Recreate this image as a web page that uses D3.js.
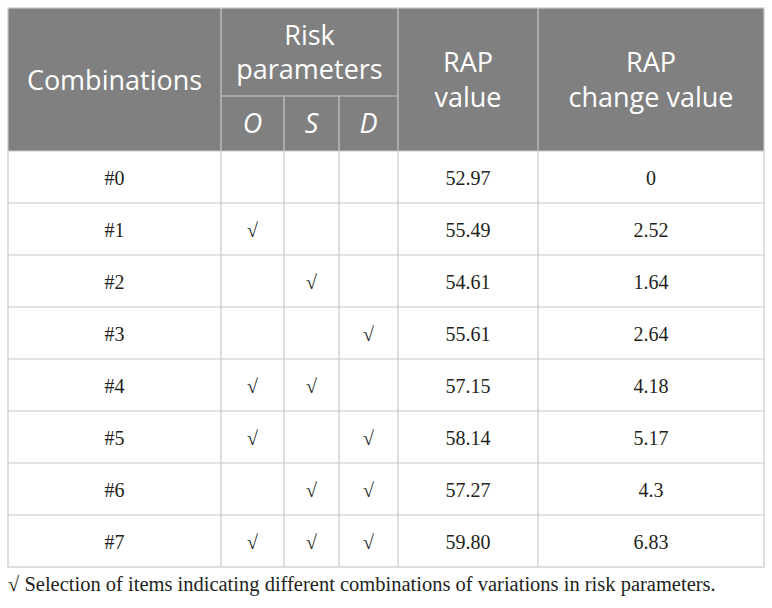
<!DOCTYPE html>
<html>
<head>
<meta charset="utf-8">
<script src="https://cdn.jsdelivr.net/npm/d3@7"></script>
<style>
  body { margin: 0; background: #fff; }
</style>
</head>
<body>
<div id="table"></div>
<script>
// Table data
var combos = ["#0", "#1", "#2", "#3", "#4", "#5", "#6", "#7"];
var checkO = [0, 1, 0, 0, 1, 1, 0, 1];
var checkS = [0, 0, 1, 0, 1, 0, 1, 1];
var checkD = [0, 0, 0, 1, 0, 1, 1, 1];
var rapValue = ["52.97", "55.49", "54.61", "55.61", "57.15", "58.14", "57.27", "59.80"];
var rapChange = ["0", "2.52", "1.64", "2.64", "4.18", "5.17", "4.3", "6.83"];
var footnote = "\u221A Selection of items indicating different combinations of variations in risk parameters.";

// Layout
var svgWidth = 772;
var svgHeight = 608;
var tableLeft = 8, tableRight = 764;
var headTop = 8, headMid = 96, headBottom = 151, tableBottom = 567;
var colEdges = [tableLeft, 221, 284, 339, 398, 538, tableRight];
var headFill = "#808080";
var lineColor = "#c8c8c8";
var sansFont = "'Open Sans', sans-serif";
var serifFont = "'Liberation Serif', 'Times New Roman', serif";

var svg = d3.select("#table")
    .append("svg")
    .attr("width", svgWidth)
    .attr("height", svgHeight);

// Row scale for the body
var yScale = d3.scaleBand()
    .domain(combos)
    .range([headBottom, tableBottom]);

var colMid = function(i) { return (colEdges[i] + colEdges[i + 1]) / 2; };

// Header background
svg.append("rect")
    .attr("x", tableLeft)
    .attr("y", headTop)
    .attr("width", tableRight - tableLeft)
    .attr("height", headBottom - headTop)
    .attr("fill", headFill);

// Header text
var head = svg.append("g")
    .attr("fill", "#fff")
    .attr("font-family", sansFont)
    .attr("font-size", "27px")
    .attr("text-anchor", "middle");

head.append("text").attr("x", colMid(0)).attr("y", 90).text("Combinations");
var riskMid = (colEdges[1] + colEdges[4]) / 2;
head.append("text").attr("x", riskMid).attr("y", 45).text("Risk");
head.append("text").attr("x", riskMid).attr("y", 79).text("parameters");
["O", "S", "D"].forEach(function(p, i) {
    head.append("text")
        .attr("x", colMid(i + 1))
        .attr("y", 133)
        .attr("font-style", "italic")
        .text(p);
});
head.append("text").attr("x", colMid(4)).attr("y", 72).text("RAP");
head.append("text").attr("x", colMid(4)).attr("y", 106.5).text("value");
head.append("text").attr("x", colMid(5)).attr("y", 72).text("RAP");
head.append("text").attr("x", colMid(5)).attr("y", 106.5).text("change value");

// Grid lines
var grid = svg.append("g")
    .attr("stroke", lineColor)
    .attr("stroke-width", 1.2)
    .attr("fill", "none");

// outer border
grid.append("rect")
    .attr("x", tableLeft)
    .attr("y", headTop)
    .attr("width", tableRight - tableLeft)
    .attr("height", tableBottom - headTop);

// vertical lines
colEdges.slice(1, -1).forEach(function(x, i) {
    var top = (i === 1 || i === 2) ? headMid : headTop;
    grid.append("line")
        .attr("x1", x).attr("x2", x)
        .attr("y1", top).attr("y2", tableBottom);
});

// split under "Risk parameters"
grid.append("line")
    .attr("x1", colEdges[1]).attr("x2", colEdges[4])
    .attr("y1", headMid).attr("y2", headMid);

// row lines
grid.selectAll("line.row")
    .data(combos)
    .enter()
    .append("line")
    .attr("class", "row")
    .attr("x1", tableLeft).attr("x2", tableRight)
    .attr("y1", d => yScale(d)).attr("y2", d => yScale(d));

// Body cells
var rows = svg.selectAll("g.rowtext")
    .data(combos)
    .enter()
    .append("g")
    .attr("class", "rowtext")
    .attr("transform", d => `translate(0, ${yScale(d) + yScale.bandwidth() / 2})`)
    .attr("font-family", serifFont)
    .attr("font-size", "20px")
    .attr("fill", "#231f20")
    .attr("text-anchor", "middle");

rows.each(function(d, i) {
    var g = d3.select(this);
    var cells = [
        combos[i],
        checkO[i] ? "\u221A" : "",
        checkS[i] ? "\u221A" : "",
        checkD[i] ? "\u221A" : "",
        rapValue[i],
        rapChange[i]
    ];
    cells.forEach(function(t, c) {
        if (!t) return;
        g.append("text")
            .attr("x", colMid(c))
            .attr("y", 8)
            .text(t);
    });
});

// Footnote
svg.append("text")
    .attr("x", tableLeft)
    .attr("y", 591)
    .attr("font-family", serifFont)
    .attr("font-size", "20.5px")
    .attr("fill", "#231f20")
    .text(footnote);
</script>
</body>
</html>
